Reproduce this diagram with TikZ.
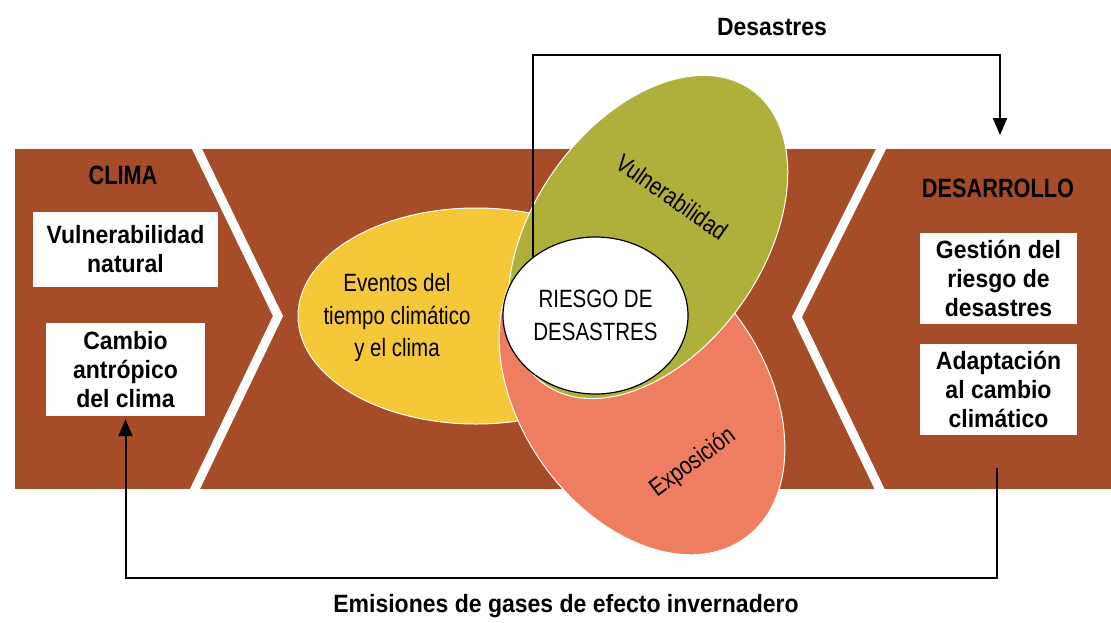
\documentclass[tikz,border=0pt]{standalone}
\usepackage{fontspec}
\usetikzlibrary{shapes.geometric,arrows.meta}
\setmainfont{Liberation Sans}
\newfontfamily\bfcond[FakeStretch=0.92]{Liberation Sans Bold}
\newfontfamily\hdcond[FakeStretch=0.82]{Liberation Sans Bold}
\newfontfamily\lcond[FakeStretch=0.82]{Liberation Sans}
\definecolor{bandbrown}{HTML}{A64C28}
\definecolor{evyellow}{HTML}{F5C83A}
\definecolor{vulgreen}{HTML}{AFB03C}
\definecolor{exsalmon}{HTML}{EE7D62}
\begin{document}
\begin{tikzpicture}[x=1pt,y=-1pt,
  boxtxt/.style={fill=white, align=center, inner sep=0pt,
    font=\bfcond\fontsize{25}{29}\selectfont},
  headtxt/.style={font=\hdcond\fontsize{26.5}{30}\selectfont},
  boldlbl/.style={font=\bfcond\fontsize{25}{29}\selectfont},
  lighttxt/.style={font=\lcond\fontsize{25}{32.5}\selectfont, align=center},
  blob/.style={ellipse, draw=white, line width=1pt, inner sep=0pt},
  conn/.style={draw=black, line width=2pt, -{Triangle[length=17pt,width=14pt]}},
  chev/.style={draw=white, line width=9pt, miter limit=10}]
\useasboundingbox (0,0) rectangle (1111,622);
\fill[white] (0,0) rectangle (1111,622);
% band
\fill[bandbrown] (15,149) rectangle (1111,489);
\begin{scope}
  \clip (15,149) rectangle (1111,489);
  \draw[chev] (191.2,137) -- (278,316) -- (189.2,501);
  \draw[chev] (887,137) -- (797,317) -- (885.3,501);
\end{scope}
% left column
\node[headtxt] (clima) at (123,175) {CLIMA};
\node[boxtxt, minimum width=185, minimum height=75] (vulnat) at (125.5,249.5) {Vulnerabilidad\\natural};
\node[boxtxt, minimum width=159, minimum height=93] (cambio) at (125.5,369.5) {Cambio\\antrópico\\del clima};
% right column
\node[headtxt] (desarrollo) at (998,188) {DESARROLLO};
\node[boxtxt, minimum width=157, minimum height=91] (gestion) at (998.5,278.5) {Gestión del\\riesgo de\\desastres};
\node[boxtxt, minimum width=157, minimum height=91] (adapt) at (998.5,389.5) {Adaptación\\al cambio\\climático};
% ellipses
\node[blob, fill=evyellow, minimum width=356, minimum height=216] (eventos) at (476,316) {};
\node[lighttxt] (eventostxt) at (397,318) {Eventos del\\tiempo climático\\y el clima};
\node[blob, fill=exsalmon, minimum width=356, minimum height=244, rotate=-55] (expo) at (642,393) {};
\node[blob, fill=vulgreen, minimum width=360, minimum height=230, rotate=55] (vuln) at (648,237) {};
\node[lighttxt, rotate=-35] (vulntxt) at (672,197) {Vulnerabilidad};
\node[lighttxt, rotate=36.5] (expotxt) at (693,463) {Exposición};
\node[ellipse, fill=white, draw=black, line width=1.2pt, inner sep=0pt,
      minimum width=185, minimum height=157, lighttxt] (riesgo) at (595.5,315.5) {RIESGO DE\\DESASTRES};
% connectors
\coordinate (ytop) at (0,55);
\coordinate (dtip) at (1000,135);
\draw[conn] (riesgo.137) |- (dtip |- ytop) -- (dtip);
\node[boldlbl] (desastres) at (772,27) {Desastres};
\coordinate (estart) at (997,468);
\coordinate (ylow) at (0,578);
\draw[conn, shorten >=3pt] (estart) -- (estart |- ylow) -| (cambio.south);
\node[boldlbl] (emisiones) at (566,606) {Emisiones de gases de efecto invernadero};
\end{tikzpicture}
\end{document}
